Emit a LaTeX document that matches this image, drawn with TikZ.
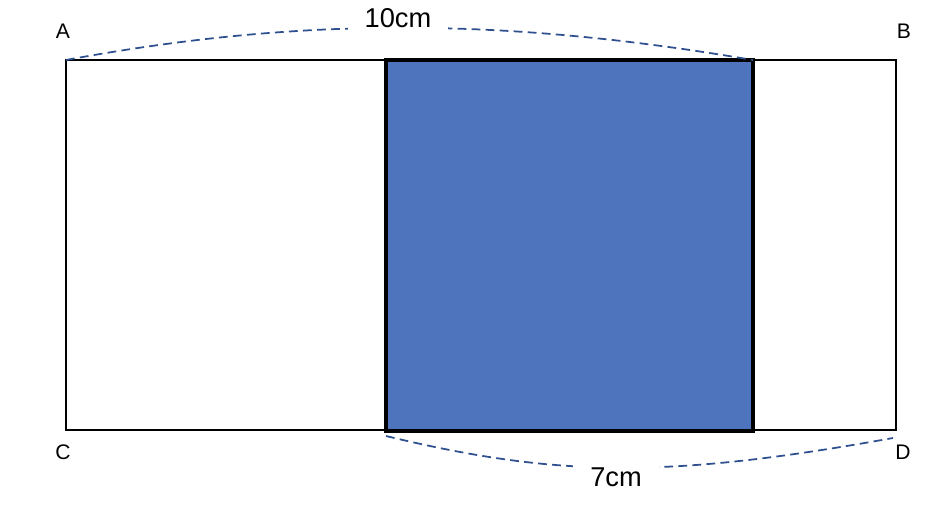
\documentclass[tikz,border=0pt]{standalone}
\usepackage{fontspec}
\setmainfont{Liberation Sans}
\definecolor{sqblue}{RGB}{79,116,190}
\definecolor{dimblue}{RGB}{47,80,143}

\begin{document}
\begin{tikzpicture}[x=0.02cm,y=-0.02cm,
  corner/.style={font=\fontsize{12}{14}\selectfont},
  dimline/.style={dimblue,line width=1pt,dash pattern=on 5pt off 3pt},
  dimlabel/.style={fill=white,inner xsep=0.34cm,inner ysep=0.2cm,font=\fontsize{15.5}{18}\selectfont}]
\useasboundingbox (0,0) rectangle (942,518);
\coordinate (A) at (66,60);
\coordinate (B) at (896,60);
\coordinate (C) at (66,430);
\coordinate (D) at (896,430);
\coordinate (sqtl) at (386,60);
\coordinate (sqbr) at (753,431);
\draw[line width=1.1pt] (A) rectangle (D);
\draw[fill=sqblue,line width=2pt] (sqtl) rectangle (sqbr);
% corner letters
\node[corner] (la) at (63,31) {A};
\node[corner] (lb) at (904,31) {B};
\node[corner] (lc) at (63,452) {C};
\node[corner] (ld) at (903,452) {D};
% dimension arcs
\coordinate (top end) at (753,60);
\coordinate (bot start) at (386,436);
\coordinate (bot end) at (893,438);
\draw[dimline] (A) .. controls (300,17) and (500,17) .. (top end);
\draw[dimline] (bot start) .. controls (560,478) and (670,478) .. (bot end);
\node[dimlabel] (ten) at (398,18) {10cm};
\node[dimlabel] (seven) at (616,477) {7cm};
\end{tikzpicture}
\end{document}
